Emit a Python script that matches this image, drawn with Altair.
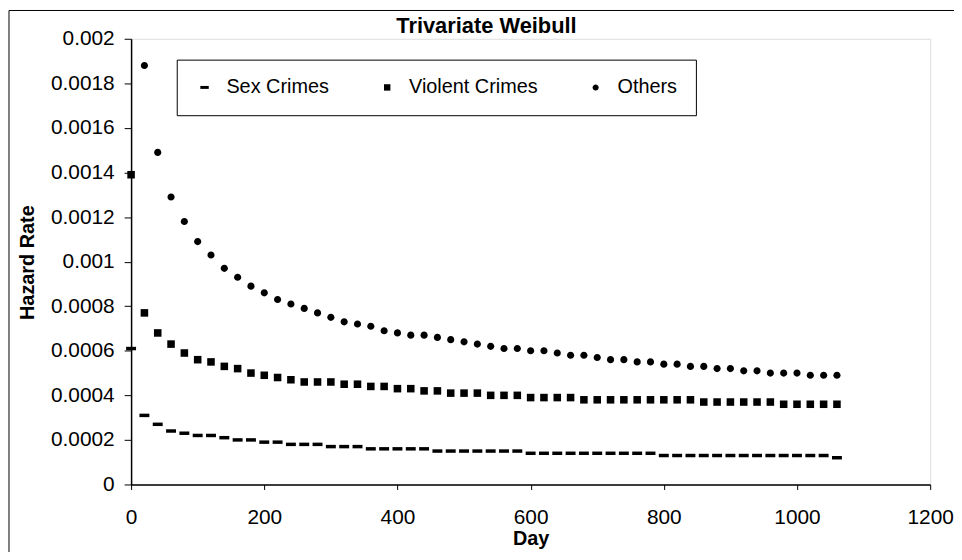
import altair as alt
import pandas as pd

FONT = "Liberation Sans"

days = [0, 20, 40, 60, 80, 100, 120, 140, 160, 180, 200, 220, 240, 260, 280, 300,
        320, 340, 360, 380, 400, 420, 440, 460, 480, 500, 520, 540, 560, 580, 600,
        620, 640, 660, 680, 700, 720, 740, 760, 780, 800, 820, 840, 860, 880, 900,
        920, 940, 960, 980, 1000, 1020, 1040, 1060]

sex_crimes = [0.00061, 0.00031, 0.00027, 0.00024, 0.00023, 0.00022, 0.00022, 0.00021,
              0.00020, 0.00020, 0.00019, 0.00019, 0.00018, 0.00018, 0.00018, 0.00017,
              0.00017, 0.00017, 0.00016, 0.00016, 0.00016, 0.00016, 0.00016, 0.00015,
              0.00015, 0.00015, 0.00015, 0.00015, 0.00015, 0.00015, 0.00014, 0.00014,
              0.00014, 0.00014, 0.00014, 0.00014, 0.00014, 0.00014, 0.00014, 0.00014,
              0.00013, 0.00013, 0.00013, 0.00013, 0.00013, 0.00013, 0.00013, 0.00013,
              0.00013, 0.00013, 0.00013, 0.00013, 0.00013, 0.00012]

violent_crimes = [0.00139, 0.00077, 0.00068, 0.00063, 0.00059, 0.00056, 0.00055, 0.00053,
                  0.00052, 0.00050, 0.00049, 0.00048, 0.00047, 0.00046, 0.00046, 0.00046,
                  0.00045, 0.00045, 0.00044, 0.00044, 0.00043, 0.00043, 0.00042, 0.00042,
                  0.00041, 0.00041, 0.00041, 0.00040, 0.00040, 0.00040, 0.00039, 0.00039,
                  0.00039, 0.00039, 0.00038, 0.00038, 0.00038, 0.00038, 0.00038, 0.00038,
                  0.00038, 0.00038, 0.00038, 0.00037, 0.00037, 0.00037, 0.00037, 0.00037,
                  0.00037, 0.00036, 0.00036, 0.00036, 0.00036, 0.00036]

others = [None, 0.00188, 0.00149, 0.00129, 0.00118, 0.00109, 0.00103, 0.00097,
          0.00093, 0.00089, 0.00086, 0.00083, 0.00081, 0.00079, 0.00077, 0.00075,
          0.00073, 0.00072, 0.00071, 0.00069, 0.00068, 0.00067, 0.00067, 0.00066,
          0.00065, 0.00064, 0.00063, 0.00062, 0.00061, 0.00061, 0.00060, 0.00060,
          0.00059, 0.00058, 0.00058, 0.00057, 0.00056, 0.00056, 0.00055, 0.00055,
          0.00054, 0.00054, 0.00053, 0.00053, 0.00052, 0.00052, 0.00051, 0.00051,
          0.00050, 0.00050, 0.00050, 0.00049, 0.00049, 0.00049]

series_names = ["Sex Crimes", "Violent Crimes", "Others"]
x_ticks = [0, 200, 400, 600, 800, 1000, 1200]
y_ticks = [0, 0.0002, 0.0004, 0.0006, 0.0008, 0.001, 0.0012, 0.0014, 0.0016, 0.0018, 0.002]
chart_title = "Trivariate Weibull"

rows = []
for name, vals in zip(series_names, [sex_crimes, violent_crimes, others]):
    for d, v in zip(days, vals):
        if v is not None:
            rows.append({"Day": d, "Hazard": v, "Series": name})
df = pd.DataFrame(rows)

# marker glyphs (unit box -1..1, scaled by sqrt(size))
dash_path = "M-1,-0.35L1,-0.35L1,0.35L-1,0.35Z"
square_path = "M-0.76,-0.76L0.76,-0.76L0.76,0.76L-0.76,0.76Z"
circle_path = "M0.72,0A0.72,0.72 0 1,1 -0.72,0A0.72,0.72 0 1,1 0.72,0Z"

points = alt.Chart(df).mark_point(
    filled=True, opacity=1, strokeWidth=0, color="black", size=100
).encode(
    x=alt.X("Day:Q",
            scale=alt.Scale(domain=[0, 1200], nice=False, zero=False),
            axis=alt.Axis(values=x_ticks, format="d", grid=False, tickSize=5,
                          labelPadding=17, labelFlush=False, labelFontSize=21,
                          labelFont=FONT, labelColor="black", domainColor="black",
                          tickColor="black", domainWidth=1.5, tickWidth=1,
                          title="Day", titleFont=FONT, titleFontSize=20,
                          titleFontWeight="bold", titleColor="black",
                          titleY=60, titleBaseline="alphabetic")),
    y=alt.Y("Hazard:Q",
            scale=alt.Scale(domain=[0, 0.002], nice=False),
            axis=alt.Axis(values=y_ticks, format="~g", grid=False, tickSize=7,
                          labelPadding=10, labelFlush=False, labelFontSize=21,
                          labelFont=FONT, labelColor="black", domainColor="black",
                          tickColor="black", domainWidth=1.5, tickWidth=1,
                          title="Hazard Rate", titleFont=FONT, titleFontSize=20,
                          titleFontWeight="bold", titleColor="black",
                          titleAngle=270, titleX=-98, titleY=225,
                          titleAlign="center", titleBaseline="alphabetic")),
    shape=alt.Shape("Series:N",
                    scale=alt.Scale(domain=series_names,
                                    range=[dash_path, square_path, circle_path]),
                    legend=alt.Legend(orient="none", legendX=46, legendY=21,
                                      direction="horizontal", columns=3, title=None,
                                      strokeColor="black", fillColor="white",
                                      padding=18, columnPadding=48, labelOffset=12,
                                      labelFont=FONT, labelFontSize=20, labelColor="black",
                                      symbolFillColor="black", symbolStrokeWidth=0,
                                      symbolSize=72, symbolOpacity=1)),
)

one_row = pd.DataFrame({"k": [0]})

border = alt.Chart(one_row).mark_rect(
    fillOpacity=0, stroke="black", strokeWidth=1
).encode(
    x=alt.value(-123), x2=alt.value(860), y=alt.value(-28.5), y2=alt.value(560)
)

title_text = alt.Chart(one_row).mark_text(
    text=chart_title, font=FONT, fontSize=22, fontWeight="bold", color="black",
    align="center", baseline="alphabetic"
).encode(x=alt.value(358), y=alt.value(-5.5))

chart = alt.layer(points, border, title_text).properties(
    width=805,
    height=449,
    autosize=alt.AutoSizeParams(type="none"),
    padding={"left": 124, "top": 29, "right": 24, "bottom": 66},
).configure_view(
    stroke="black", strokeWidth=1.5
).configure(background="white")

chart.save("out.html", embed_options={"renderer": "svg", "actions": False})
